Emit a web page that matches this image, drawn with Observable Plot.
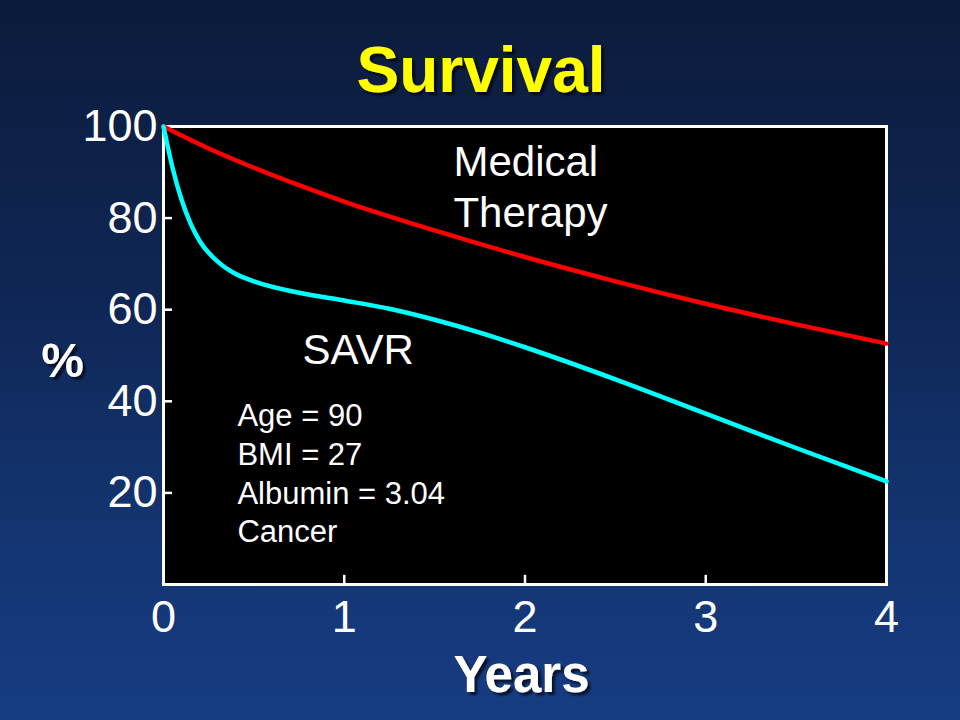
<!DOCTYPE html>
<html>
<head>
<meta charset="utf-8">
<script src="https://cdn.jsdelivr.net/npm/d3@7"></script>
<script src="https://cdn.jsdelivr.net/npm/@observablehq/plot@0.6"></script>
<style>
  html, body { margin: 0; padding: 0; }
  body {
    width: 960px; height: 720px; overflow: hidden;
    background: linear-gradient(to bottom, #0c1b3b 0%, #0f2654 40%, #143572 75%, #163c82 100%);
  }
  svg { display: block; }
</style>
</head>
<body>
<div id="chart"></div>
<script>
// ---- data ----
const titleText = ["Survival"];
const yLabel = ["%"];
const xLabel = ["Years"];

const medicalYears    = [0, 0.25, 0.5, 0.75, 1, 1.5, 2, 2.5, 3, 3.5, 4];
const medicalSurvival = [100, 95.2, 91.0, 87.2, 83.6, 77.3, 71.5, 66.2, 61.3, 56.8, 52.6];

const savrYears    = [0, 0.05, 0.1, 0.15, 0.2, 0.3, 0.4, 0.5, 0.75, 1, 1.25, 1.5, 1.75, 2, 2.5, 3, 3.5, 4];
const savrSurvival = [100, 91.0, 84.0, 78.8, 75.0, 70.5, 67.8, 66.2, 63.7, 62.0, 60.2, 57.8, 55.0, 51.8, 44.8, 37.3, 29.8, 22.5];

const yTickLabels = [20, 40, 60, 80, 100];
const yInnerTicks = [20, 40, 60, 80];
const xTickLabels = [0, 1, 2, 3, 4];
const xInnerTicks = [1, 2, 3];

const medicalLabel = ["Medical", "Therapy"];
const savrLabel = ["SAVR"];
const patientNotes = ["Age = 90", "BMI = 27", "Albumin = 3.04", "Cancer"];

// ---- build tables ----
const medical = medicalYears.map((x, i) => ({x, y: medicalSurvival[i]}));
const savr = savrYears.map((x, i) => ({x, y: savrSurvival[i]}));

const font = "Liberation Sans, Arial, Helvetica, sans-serif";

const chart = Plot.plot({
  width: 960,
  height: 720,
  marginLeft: 163,
  marginRight: 74,
  marginTop: 126,
  marginBottom: 136,
  x: {domain: [0, 4]},
  y: {domain: [0, 100]},
  style: {background: "transparent", color: "white", fontFamily: font},
  marks: [
    Plot.frame({fill: "black", stroke: "white", strokeWidth: 3}),
    Plot.ruleY(yInnerTicks, {x1: 0, x2: 0.05, stroke: "white", strokeWidth: 2.5}),
    Plot.ruleX(xInnerTicks, {y1: 0, y2: 2, stroke: "white", strokeWidth: 2.5}),
    Plot.axisY(yTickLabels, {tickSize: 0, tickPadding: 6, fontSize: 45, label: null, fill: "white", tickFormat: "d"}),
    Plot.axisX(xTickLabels, {tickSize: 0, tickPadding: 16, fontSize: 45, label: null, fill: "white", tickFormat: "d"}),
    Plot.line(medical, {x: "x", y: "y", stroke: "#ff0000", strokeWidth: 4.5, curve: "monotone-x"}),
    Plot.line(savr, {x: "x", y: "y", stroke: "#00ffff", strokeWidth: 4.5, curve: "monotone-x"}),
    // annotations
    Plot.text([medicalLabel[0]], {x: 1.604, y: 92.1, text: d => d, textAnchor: "start", fontSize: 42, fill: "white"}),
    Plot.text([medicalLabel[1]], {x: 1.604, y: 81.0, text: d => d, textAnchor: "start", fontSize: 42, fill: "white"}),
    Plot.text(savrLabel, {x: 0.769, y: 51.1, text: d => d, textAnchor: "start", fontSize: 42, fill: "white"}),
    Plot.text(patientNotes, {x: 0.409, y: (d, i) => 36.7 - i * 8.45, text: d => d, textAnchor: "start", fontSize: 31, fill: "white"}),
    // title, y label, x label (shadow added via SVG filter below)
    Plot.text(titleText, {text: d => d, frameAnchor: "top", textAnchor: "middle", lineAnchor: "middle", dx: -44, dy: -55, fontSize: 64, fontWeight: "bold", fill: "#ffff00"}),
    Plot.text(yLabel, {text: d => d, frameAnchor: "left", textAnchor: "middle", lineAnchor: "middle", dx: -101, dy: 6, fontSize: 48, fontWeight: "bold", fill: "white"}),
    Plot.text(xLabel, {text: d => d, frameAnchor: "bottom", textAnchor: "middle", lineAnchor: "middle", dx: -3.5, dy: 91, fontSize: 51, fontWeight: "bold", fill: "white"})
  ]
});

// drop shadow filter for the bold labels
const svg = d3.select(chart);
const defs = svg.insert("defs", ":first-child");
defs.append("filter")
  .attr("id", "textShadow")
  .attr("x", "-20%").attr("y", "-30%").attr("width", "150%").attr("height", "170%")
  .append("feDropShadow")
  .attr("dx", 3).attr("dy", 3).attr("stdDeviation", 1)
  .attr("flood-color", "#000").attr("flood-opacity", 0.65);
const shadowed = new Set([...titleText, ...yLabel, ...xLabel]);
svg.selectAll("text")
  .filter(function () { return shadowed.has(this.textContent); })
  .attr("filter", "url(#textShadow)");

document.getElementById("chart").appendChild(chart);
</script>
</body>
</html>
